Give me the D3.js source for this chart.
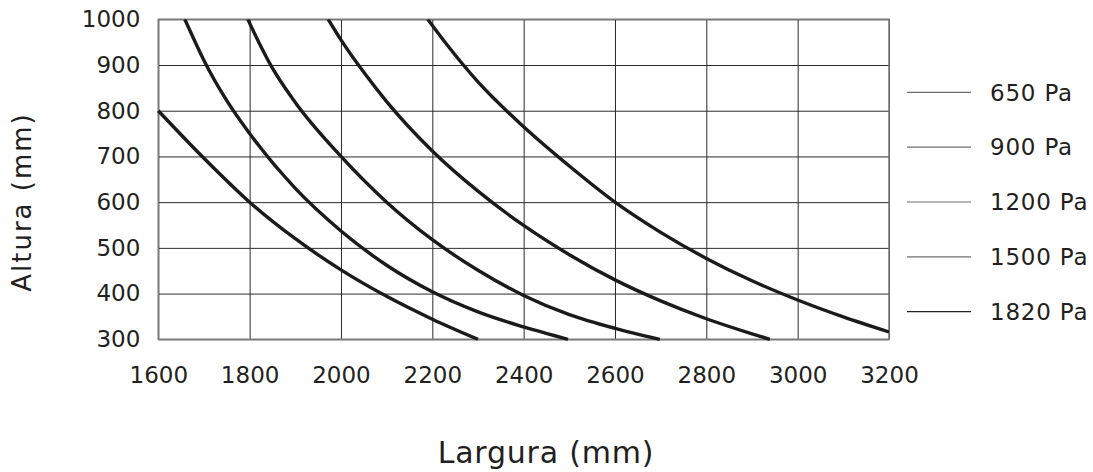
<!DOCTYPE html>
<html>
<head>
<meta charset="utf-8">
<script src="https://cdn.jsdelivr.net/npm/d3@7"></script>
<style>
  body { margin: 0; background: #fff; }
  text { font-family: "DejaVu Sans", sans-serif; fill: #231f20; }
</style>
</head>
<body>
<div id="chart"></div>
<script>
// pressure series (width mm, height mm)
var series650  = [[2190,1000],[2230,947],[2268,900],[2300,863],[2400,765],[2500,679],[2600,600],[2700,534],[2800,477],[2900,428],[3000,386],[3100,349],[3200,316]];
var series900  = [[1972,1000],[2000,955],[2050,884],[2100,820],[2200,712],[2300,624],[2400,549],[2500,485],[2600,430],[2700,384],[2800,345],[2900,312],[2939,300]];
var series1200 = [[1796,1000],[1820,950],[1850,893],[1900,818],[2000,700],[2100,600],[2200,518],[2300,451],[2400,396],[2500,354],[2600,324],[2698,300]];
var series1500 = [[1658,1000],[1680,952],[1700,910],[1750,822],[1800,750],[1900,630],[2000,537],[2100,462],[2200,404],[2300,360],[2400,327],[2497,300]];
var series1820 = [[1600,800],[1700,696],[1800,600],[1900,520],[2000,452],[2100,394],[2200,344],[2300,300]];

var seriesNames = ["650 Pa", "900 Pa", "1200 Pa", "1500 Pa", "1820 Pa"];
var xTicks = [1600,1800,2000,2200,2400,2600,2800,3000,3200];
var yTicks = [300,400,500,600,700,800,900,1000];

function PressureChart(_param){
	var param = _param || {};

	var W = 1093, H = 472;
	var margin = {top: 19.3, left: 158.3, right: 204, bottom: 132.7};
	var width = W - margin.left - margin.right,
	    height = H - margin.top - margin.bottom;

	var svg = d3.select(param.div)
	             .append('svg')
	             .attr('width', W)
	             .attr('height', H);

	var g = svg.append('g').attr('transform', 'translate(' + margin.left + ',' + margin.top + ')');

	var x = d3.scaleLinear().domain([1600, 3200]).range([0, width]);
	var y = d3.scaleLinear().domain([300, 1000]).range([height, 0]);

	// grid
	g.append('g')
	    .attr('class', 'grid')
	    .attr('transform', 'translate(0,' + height + ')')
	    .call(d3.axisBottom(x).tickValues(xTicks).tickSize(-height).tickFormat(''))
	    .call(function (s) { s.select('.domain').remove(); s.selectAll('line').attr('stroke', '#2b2b2b').attr('stroke-width', 1); });

	g.append('g')
	    .attr('class', 'grid')
	    .call(d3.axisLeft(y).tickValues(yTicks).tickSize(-width).tickFormat(''))
	    .call(function (s) { s.select('.domain').remove(); s.selectAll('line').attr('stroke', '#2b2b2b').attr('stroke-width', 1); });

	g.append('rect')
	    .attr('width', width).attr('height', height)
	    .attr('fill', 'none').attr('stroke', '#7a7a7a').attr('stroke-width', 1.6);

	// tick labels
	g.append('g')
	    .attr('transform', 'translate(0,' + height + ')')
	    .call(d3.axisBottom(x).tickValues(xTicks).tickSize(0).tickPadding(27).tickFormat(d3.format('d')))
	    .call(function (s) {
	        s.select('.domain').remove();
	        s.selectAll('text').style('font-size', '23px')
	         .attr('fill', '#231f20').style('font-family', '"DejaVu Sans", sans-serif');
	    });

	g.append('g')
	    .call(d3.axisLeft(y).tickValues(yTicks).tickSize(0).tickPadding(18).tickFormat(d3.format('d')))
	    .call(function (s) {
	        s.select('.domain').remove();
	        s.selectAll('text').style('font-size', '23px')
	         .attr('fill', '#231f20').style('font-family', '"DejaVu Sans", sans-serif');
	    });

	// curves
	g.append('clipPath').attr('id', 'plot-clip')
	    .append('rect').attr('x', -2).attr('y', 0).attr('width', width + 2).attr('height', height + 2);

	var line = d3.line()
	    .x(function (d) { return x(d[0]); })
	    .y(function (d) { return y(d[1]); })
	    .curve(d3.curveMonotoneX);

	var data = [series650, series900, series1200, series1500, series1820];

	g.append('g').attr('clip-path', 'url(#plot-clip)')
	    .selectAll('.curve')
	    .data(data)
	    .enter().append('path')
	    .attr('class', 'curve')
	    .attr('d', line)
	    .attr('fill', 'none')
	    .attr('stroke', '#1c1a1b')
	    .attr('stroke-width', 3.4);

	// legend
	var legend = svg.append('g').attr('transform', 'translate(907,92.3)');
	var item = legend.selectAll('.item')
	    .data(seriesNames)
	    .enter().append('g')
	    .attr('transform', function (d, i) { return 'translate(0,' + (i * 54.85) + ')'; });
	item.append('line')
	    .attr('x1', 0).attr('x2', 64)
	    .attr('stroke', function (d, i) { return i == 4 ? '#222' : '#6f6f6f'; })
	    .attr('stroke-width', 1.2);
	item.append('text')
	    .attr('x', 83).attr('dy', '0.36em')
	    .style('font-size', '23px').style('letter-spacing', '0.8px')
	    .text(function (d) { return d; });

	// axis titles
	svg.append('text')
	    .attr('x', 546).attr('y', 463)
	    .attr('text-anchor', 'middle')
	    .style('font-size', '30px').style('letter-spacing', '0.8px')
	    .text('Largura (mm)');

	svg.append('text')
	    .attr('transform', 'translate(31,202) rotate(-90)')
	    .attr('text-anchor', 'middle')
	    .style('font-size', '26px').style('letter-spacing', '2px')
	    .text('Altura (mm)');
}

PressureChart({div: '#chart'});
</script>
</body>
</html>
